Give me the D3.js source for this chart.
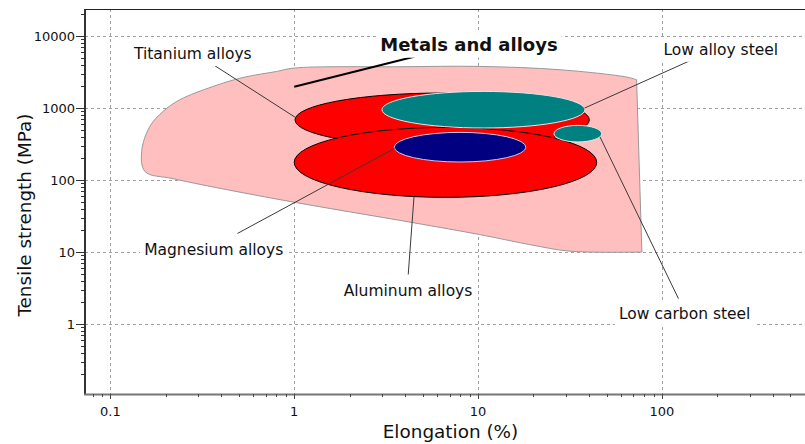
<!DOCTYPE html>
<html>
<head>
<meta charset="utf-8">
<script src="https://cdn.jsdelivr.net/npm/d3@7"></script>
<style>
  body { margin: 0; background: #fff; }
  svg { display: block; }
</style>
</head>
<body>
<svg id="chart" width="805" height="444"></svg>
<script>
// Axis ticks (log decades)
const elongationTicks = [0.1, 1, 10, 100];
const strengthTicks = [1, 10, 100, 1000, 10000];

// Material families: elongation range (%) and tensile strength range (MPa)
const families = ["Titanium alloys", "Aluminum alloys", "Low alloy steel", "Low carbon steel", "Magnesium alloys"];
const elongationMin = [1.01, 1.0, 3.0, 25.9, 3.5];
const elongationMax = [40.3, 44.2, 38.1, 47.0, 18.2];
const strengthMin = [290, 57.5, 528, 338, 178];
const strengthMax = [1615, 538, 1700, 574, 459];
const familyFill = ["#ff0000", "#ff0000", "#008080", "#008080", "#000080"];
const familyEdge = ["#000000", "#000000", "#e6e6e6", "#e6e6e6", "#c8c8f0"];

// Outline of the whole metals and alloys class (bottom-right, along the bottom, round the nose, along the top)
const envelopeElongation = [77.8, 31.6, 19.1, 10.2, 4.43, 0.837, 0.219, 0.1545, 0.148, 0.164, 0.1935, 0.239, 0.362, 0.527, 0.803, 1.0, 3.76, 10.2, 27.9, 64.3, 72.8];
const envelopeStrength   = [10,   10.3, 12.7, 17.5, 25.6, 53.4,  104.5, 131,    250,   556,   897,    1304,  1993,  2655,  3220,  3590, 3740, 3780, 3400, 2690, 2470];

// Callouts: text anchor (centre, baseline), leader start, and leader end
const calloutText = ["Metals and alloys", "Titanium alloys", "Low alloy steel", "Magnesium alloys", "Aluminum alloys", "Low carbon steel"];
const calloutElongation = [8.92, 0.281, 209, 0.365, 4.16, 133];
const calloutStrength = [6240, 4790, 5480, 9.23, 2.49, 1.18];
const leaderElongation = [4.54, 0.363, 146, 0.491, 4.17, 123];
const leaderStrength = [5200, 3990, 4680, 18.1, 4.88, 2.26];
// leader end: index into families (-1 = the class outline) and the angle on that ellipse (deg, screen)
const leaderFamily = [-1, 0, 2, 4, 1, 3];
const leaderAngle = [0, 185, -5, 175, 102, 22];
const leaderEndElongation = [1.0];
const leaderEndStrength = [1970];

const W = 805, H = 444;
const m = { left: 85, top: 9, right: 0, bottom: 50 };

const svg = d3.select("#chart");
const x = d3.scaleLog().domain([0.0728, 600]).range([m.left, W - m.right]);
const y = d3.scaleLog().domain([0.107, 23700]).range([H - m.bottom, m.top]);

const font = "'DejaVu Sans', Verdana, sans-serif";

// Grid
const grid = svg.append("g").attr("stroke", "#a0a0a0").attr("stroke-dasharray", "3,3").attr("stroke-width", 1);
grid.selectAll("line.gx").data(elongationTicks).join("line")
  .attr("x1", d => Math.round(x(d)) + 0.5).attr("x2", d => Math.round(x(d)) + 0.5)
  .attr("y1", y.range()[1]).attr("y2", y.range()[0]);
grid.selectAll("line.gy").data(strengthTicks).join("line")
  .attr("y1", d => Math.round(y(d)) + 0.5).attr("y2", d => Math.round(y(d)) + 0.5)
  .attr("x1", x.range()[0]).attr("x2", x.range()[1]);

// Class outline
const outline = d3.line()
  .x(d => x(d[0])).y(d => y(d[1]))
  .curve(d3.curveCatmullRom.alpha(0.5));
const envPts = envelopeElongation.map((e, i) => [e, envelopeStrength[i]]);
svg.append("path")
  .attr("d", outline(envPts) + "Z")
  .attr("fill", "#ffbfbf")
  .attr("stroke", "#999")
  .attr("stroke-width", 1);

// Family bubbles
const bubbles = families.map((f, i) => {
  const x0 = x(elongationMin[i]), x1 = x(elongationMax[i]);
  const y0 = y(strengthMax[i]), y1 = y(strengthMin[i]);
  return { name: f, cx: (x0 + x1) / 2, cy: (y0 + y1) / 2, rx: (x1 - x0) / 2, ry: (y1 - y0) / 2, fill: familyFill[i], edge: familyEdge[i] };
});
svg.append("g").selectAll("ellipse").data(bubbles).join("ellipse")
  .attr("cx", d => d.cx).attr("cy", d => d.cy)
  .attr("rx", d => d.rx).attr("ry", d => d.ry)
  .attr("fill", d => d.fill)
  .attr("stroke", d => d.edge)
  .attr("stroke-width", 1);

// Axes
const axisG = svg.append("g");
const logMinor = (domain) => {
  const out = [];
  for (let e = -2; e <= 5; e++) for (let k = 1; k <= 9; k++) {
    const v = k * Math.pow(10, e);
    if (v >= domain[0] && v <= domain[1]) out.push(v);
  }
  return out;
};
// left axis
axisG.append("line").attr("x1", m.left).attr("x2", m.left).attr("y1", y.range()[1]).attr("y2", y.range()[0])
  .attr("stroke", "#333").attr("stroke-width", 2);
axisG.selectAll("line.ym").data(logMinor(y.domain())).join("line")
  .attr("x1", d => m.left - (strengthTicks.includes(d) ? 9 : 4)).attr("x2", m.left)
  .attr("y1", d => Math.round(y(d)) + 0.5).attr("y2", d => Math.round(y(d)) + 0.5)
  .attr("stroke", "#333").attr("stroke-width", 1);
axisG.selectAll("text.yt").data(strengthTicks).join("text")
  .attr("x", m.left - 10).attr("y", d => y(d) + 5)
  .attr("text-anchor", "end")
  .attr("font-family", font).attr("font-size", 13).attr("fill", "#111")
  .text(d => d3.format("d")(d));
// bottom axis
axisG.append("line").attr("x1", m.left - 1).attr("x2", W).attr("y1", y.range()[0] + 0.5).attr("y2", y.range()[0] + 0.5)
  .attr("stroke", "#777").attr("stroke-width", 2);
axisG.selectAll("line.xm").data(logMinor(x.domain())).join("line")
  .attr("x1", d => Math.round(x(d)) + 0.5).attr("x2", d => Math.round(x(d)) + 0.5)
  .attr("y1", y.range()[0]).attr("y2", d => y.range()[0] + (elongationTicks.includes(d) ? 5 : 3))
  .attr("stroke", "#444").attr("stroke-width", 1);
axisG.selectAll("text.xt").data(elongationTicks).join("text")
  .attr("x", d => x(d)).attr("y", y.range()[0] + 22)
  .attr("text-anchor", "middle")
  .attr("font-family", font).attr("font-size", 13).attr("fill", "#111")
  .text(d => String(d));
// top frame
axisG.append("line").attr("x1", m.left).attr("x2", W).attr("y1", m.top + 0.5).attr("y2", m.top + 0.5)
  .attr("stroke", "#222").attr("stroke-width", 1);

// Axis titles
svg.append("text")
  .attr("x", (x.range()[0] + 816) / 2).attr("y", 438)
  .attr("text-anchor", "middle")
  .attr("font-family", font).attr("font-size", 18.4).attr("fill", "#111")
  .text("Elongation (%)");
svg.append("text")
  .attr("transform", `translate(31,${215}) rotate(-90)`)
  .attr("text-anchor", "middle")
  .attr("font-family", font).attr("font-size", 18.4).attr("fill", "#111")
  .text("Tensile strength (MPa)");

// Callout leaders
const leaderEnd = (i) => {
  const f = leaderFamily[i];
  if (f < 0) return [x(leaderEndElongation[0]), y(leaderEndStrength[0])];
  const b = bubbles[f], a = leaderAngle[i] * Math.PI / 180;
  return [b.cx + b.rx * Math.cos(a), b.cy + b.ry * Math.sin(a)];
};
svg.append("g").selectAll("line").data(calloutText).join("line")
  .attr("x1", (d, i) => x(leaderElongation[i])).attr("y1", (d, i) => y(leaderStrength[i]))
  .attr("x2", (d, i) => leaderEnd(i)[0]).attr("y2", (d, i) => leaderEnd(i)[1])
  .attr("stroke", (d, i) => i === 0 ? "#000" : "#3a3a3a")
  .attr("stroke-width", (d, i) => i === 0 ? 2 : 1);

// Callout labels on white boxes
const labels = svg.append("g");
calloutText.forEach((t, i) => {
  const g = labels.append("g");
  const txt = g.append("text")
    .attr("x", x(calloutElongation[i])).attr("y", y(calloutStrength[i]))
    .attr("text-anchor", "middle")
    .attr("font-family", font)
    .attr("font-size", i === 0 ? 18 : 15.5)
    .attr("font-weight", i === 0 ? "bold" : "normal")
    .attr("fill", "#111")
    .text(t);
  const bb = txt.node().getBBox();
  g.insert("rect", "text")
    .attr("x", bb.x - 4).attr("y", bb.y - 3)
    .attr("width", bb.width + 8).attr("height", bb.height + 6)
    .attr("fill", "#fff");
});
</script>
</body>
</html>
